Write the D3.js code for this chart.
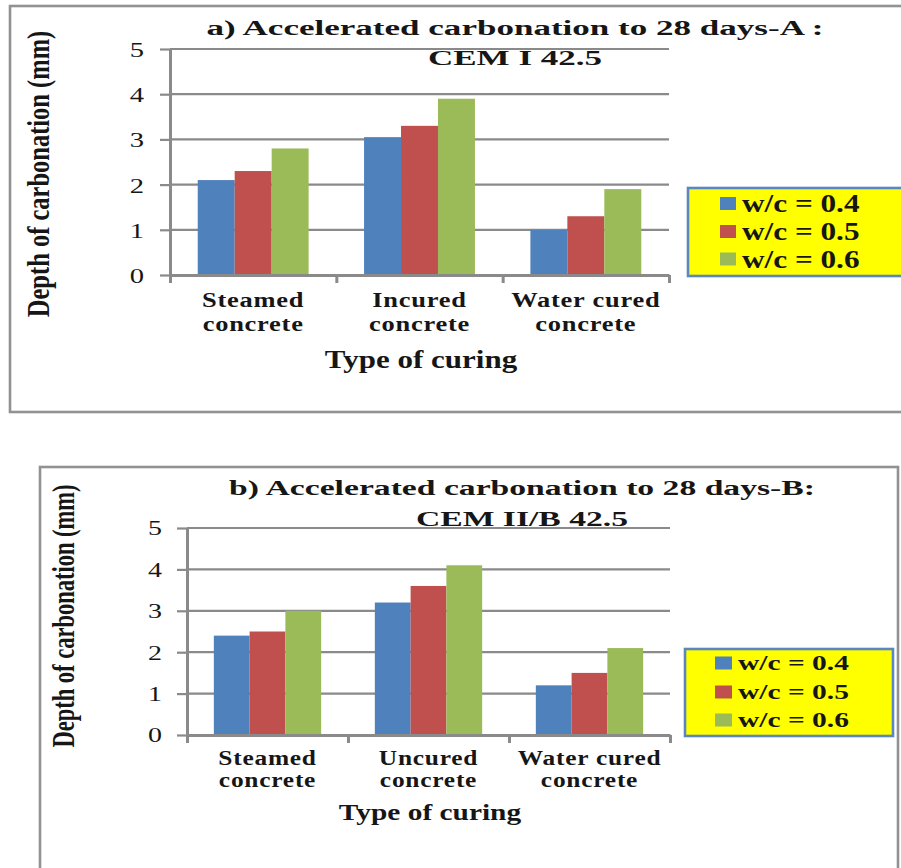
<!DOCTYPE html>
<html>
<head>
<meta charset="utf-8">
<script src="https://cdn.jsdelivr.net/npm/d3@7"></script>
<style>
  html, body { margin: 0; padding: 0; background: #ffffff; }
  svg { display: block; }
</style>
</head>
<body>
<script>
// ---- data ----
const seriesNames = ["w/c = 0.4", "w/c = 0.5", "w/c = 0.6"];
const seriesColors = ["#4F81BD", "#C0504D", "#9BBB59"];
const yTicks = [0, 1, 2, 3, 4, 5];
const yAxisTitle = "Depth of carbonation (mm)";
const xAxisTitle = "Type of curing";

const titleA = ["a) Accelerated carbonation to 28 days-A :", "CEM I 42.5"];
const categoriesA = ["Steamed concrete", "Incured concrete", "Water cured concrete"];
const valuesA_04 = [2.1, 3.05, 1.0];
const valuesA_05 = [2.3, 3.3, 1.3];
const valuesA_06 = [2.8, 3.9, 1.9];

const titleB = ["b) Accelerated carbonation to 28 days-B:", "CEM II/B 42.5"];
const categoriesB = ["Steamed concrete", "Uncured concrete", "Water cured concrete"];
const valuesB_04 = [2.4, 3.2, 1.2];
const valuesB_05 = [2.5, 3.6, 1.5];
const valuesB_06 = [3.0, 4.1, 2.1];

// ---- layout ----
const layoutA = {
  frame: { x: 10, y: 6, w: 910, h: 406 },
  plot: { left: 170, right: 669, top: 49, bottom: 275 },
  title: { cx: 515, y: [35, 65], size: 21.5, sx: 1.63 },
  yTitle: { x: 49, cy: 174, size: 24.5, sy: 1.3 },
  yTick: { size: 22, sx: 1.3, gap: 26, len: 10 },
  xTick: { y: [307, 331], size: 21, sx: 1.26 },
  xTitle: { cx: 421, y: 368, size: 25, sx: 1.24 },
  legend: { x: 688, y: 188, w: 230, h: 88, swX: 720, swW: 16, swH: 13,
            textX: 742, rows: [203.5, 231.5, 259], size: 25, sx: 1.25 }
};
const layoutB = {
  frame: { x: 40, y: 467, w: 858, h: 420 },
  plot: { left: 187, right: 670, top: 528, bottom: 735 },
  title: { cx: 522, y: [495, 526], size: 22, sx: 1.53 },
  yTitle: { x: 74, cy: 616, size: 22.5, sy: 1.4 },
  yTick: { size: 20, sx: 1.4, gap: 25, len: 10 },
  xTick: { y: [765, 787], size: 20, sx: 1.27 },
  xTitle: { cx: 430, y: 820, size: 23.7, sx: 1.24 },
  legend: { x: 685, y: 649, w: 208, h: 87, swX: 715, swW: 17, swH: 13,
            textX: 738, rows: [663, 692, 720], size: 22, sx: 1.34 }
};

const lineColor = "#8a8a8a";
const textColor = "#161616";
const serif = "'Liberation Serif', 'Times New Roman', serif";

const svg = d3.select("body").append("svg")
  .attr("width", 901).attr("height", 868);

// horizontally stretched text helper
function stretchedText(g, str, x, y, size, sx, anchor, weight) {
  return g.append("text")
    .attr("transform", `translate(${x},${y}) scale(${sx},1)`)
    .attr("text-anchor", anchor)
    .attr("font-family", serif)
    .attr("font-size", size)
    .attr("font-weight", weight)
    .attr("fill", textColor)
    .text(str);
}

function drawChart(L, title, categories, seriesValues) {
  const g = svg.append("g");
  const P = L.plot;

  // outer frame
  g.append("rect")
    .attr("x", L.frame.x).attr("y", L.frame.y)
    .attr("width", L.frame.w).attr("height", L.frame.h)
    .attr("fill", "none").attr("stroke", "#929292").attr("stroke-width", 2.6);

  const x0 = d3.scaleBand().domain(categories).range([P.left, P.right]).padding(0);
  const x1 = d3.scaleBand().domain(seriesNames).range([0, x0.bandwidth()])
    .paddingInner(0).paddingOuter(0.75);
  const y = d3.scaleLinear().domain([0, 5]).range([P.bottom, P.top]);
  const xb = d3.scaleLinear().domain([0, categories.length]).range([P.left, P.right]);

  // gridlines
  g.append("g").selectAll("line")
    .data(yTicks.filter(t => t > 0))
    .join("line")
    .attr("x1", P.left).attr("x2", P.right)
    .attr("y1", d => y(d)).attr("y2", d => y(d))
    .attr("stroke", lineColor).attr("stroke-width", 2.2);

  // bars
  const rows = categories.map((c, i) => ({
    cat: c,
    vals: seriesNames.map((s, j) => ({ s, j, v: seriesValues[j][i] }))
  }));
  g.append("g").selectAll("g")
    .data(rows)
    .join("g")
    .attr("transform", d => `translate(${x0(d.cat)},0)`)
    .selectAll("rect")
    .data(d => d.vals)
    .join("rect")
    .attr("x", d => x1(d.s))
    .attr("width", x1.bandwidth())
    .attr("y", d => y(d.v))
    .attr("height", d => y(0) - y(d.v))
    .attr("fill", d => seriesColors[d.j]);

  // y axis
  const yAxis = g.append("g")
    .attr("transform", `translate(${P.left},0)`)
    .call(d3.axisLeft(y).tickValues(yTicks).tickFormat(d3.format("d"))
      .tickSize(L.yTick.len).tickSizeOuter(0));
  yAxis.select(".domain").attr("stroke", lineColor).attr("stroke-width", 3);
  yAxis.selectAll(".tick line").attr("stroke", lineColor).attr("stroke-width", 2.2);
  yAxis.selectAll(".tick text")
    .attr("x", 0).attr("dy", null)
    .attr("transform", `translate(${-L.yTick.gap},${L.yTick.size * 0.34}) scale(${L.yTick.sx},1)`)
    .attr("font-family", serif)
    .attr("font-size", L.yTick.size)
    .attr("fill", textColor);

  // x axis (ticks at category boundaries)
  const xAxis = g.append("g")
    .attr("transform", `translate(0,${P.bottom})`)
    .call(d3.axisBottom(xb).tickValues(d3.range(categories.length + 1))
      .tickFormat("").tickSize(8).tickSizeOuter(0));
  xAxis.select(".domain").attr("stroke", lineColor).attr("stroke-width", 3);
  xAxis.selectAll(".tick line").attr("stroke", lineColor).attr("stroke-width", 3);

  // category labels, two lines each
  categories.forEach(c => {
    const k = c.lastIndexOf(" ");
    const lines = [c.slice(0, k), c.slice(k + 1)];
    const cx = x0(c) + x0.bandwidth() / 2;
    lines.forEach((ln, i) =>
      stretchedText(g, ln, cx, L.xTick.y[i], L.xTick.size, L.xTick.sx, "middle", "bold")
        .attr("letter-spacing", 0.6));
  });

  // axis titles
  stretchedText(g, xAxisTitle, L.xTitle.cx, L.xTitle.y, L.xTitle.size, L.xTitle.sx, "middle", "bold");
  g.append("text")
    .attr("transform", `translate(${L.yTitle.x},${L.yTitle.cy}) rotate(-90) scale(1,${L.yTitle.sy})`)
    .attr("text-anchor", "middle")
    .attr("font-family", serif)
    .attr("font-size", L.yTitle.size)
    .attr("font-weight", "bold")
    .attr("fill", textColor)
    .text(yAxisTitle);

  // chart title
  title.forEach((t, i) =>
    stretchedText(g, t, L.title.cx, L.title.y[i], L.title.size, L.title.sx, "middle", "bold"));

  // legend
  const Lg = L.legend;
  const leg = g.append("g");
  leg.append("rect")
    .attr("x", Lg.x).attr("y", Lg.y).attr("width", Lg.w).attr("height", Lg.h)
    .attr("fill", "#FFFF00").attr("stroke", "#5B87C0").attr("stroke-width", 2.6);
  seriesNames.forEach((s, i) => {
    leg.append("rect")
      .attr("x", Lg.swX).attr("y", Lg.rows[i] - Lg.swH / 2)
      .attr("width", Lg.swW).attr("height", Lg.swH)
      .attr("fill", seriesColors[i]);
    stretchedText(leg, s, Lg.textX, Lg.rows[i] + Lg.size * 0.34, Lg.size, Lg.sx, "start", "bold");
  });
}

drawChart(layoutA, titleA, categoriesA, [valuesA_04, valuesA_05, valuesA_06]);
drawChart(layoutB, titleB, categoriesB, [valuesB_04, valuesB_05, valuesB_06]);
</script>
</body>
</html>
